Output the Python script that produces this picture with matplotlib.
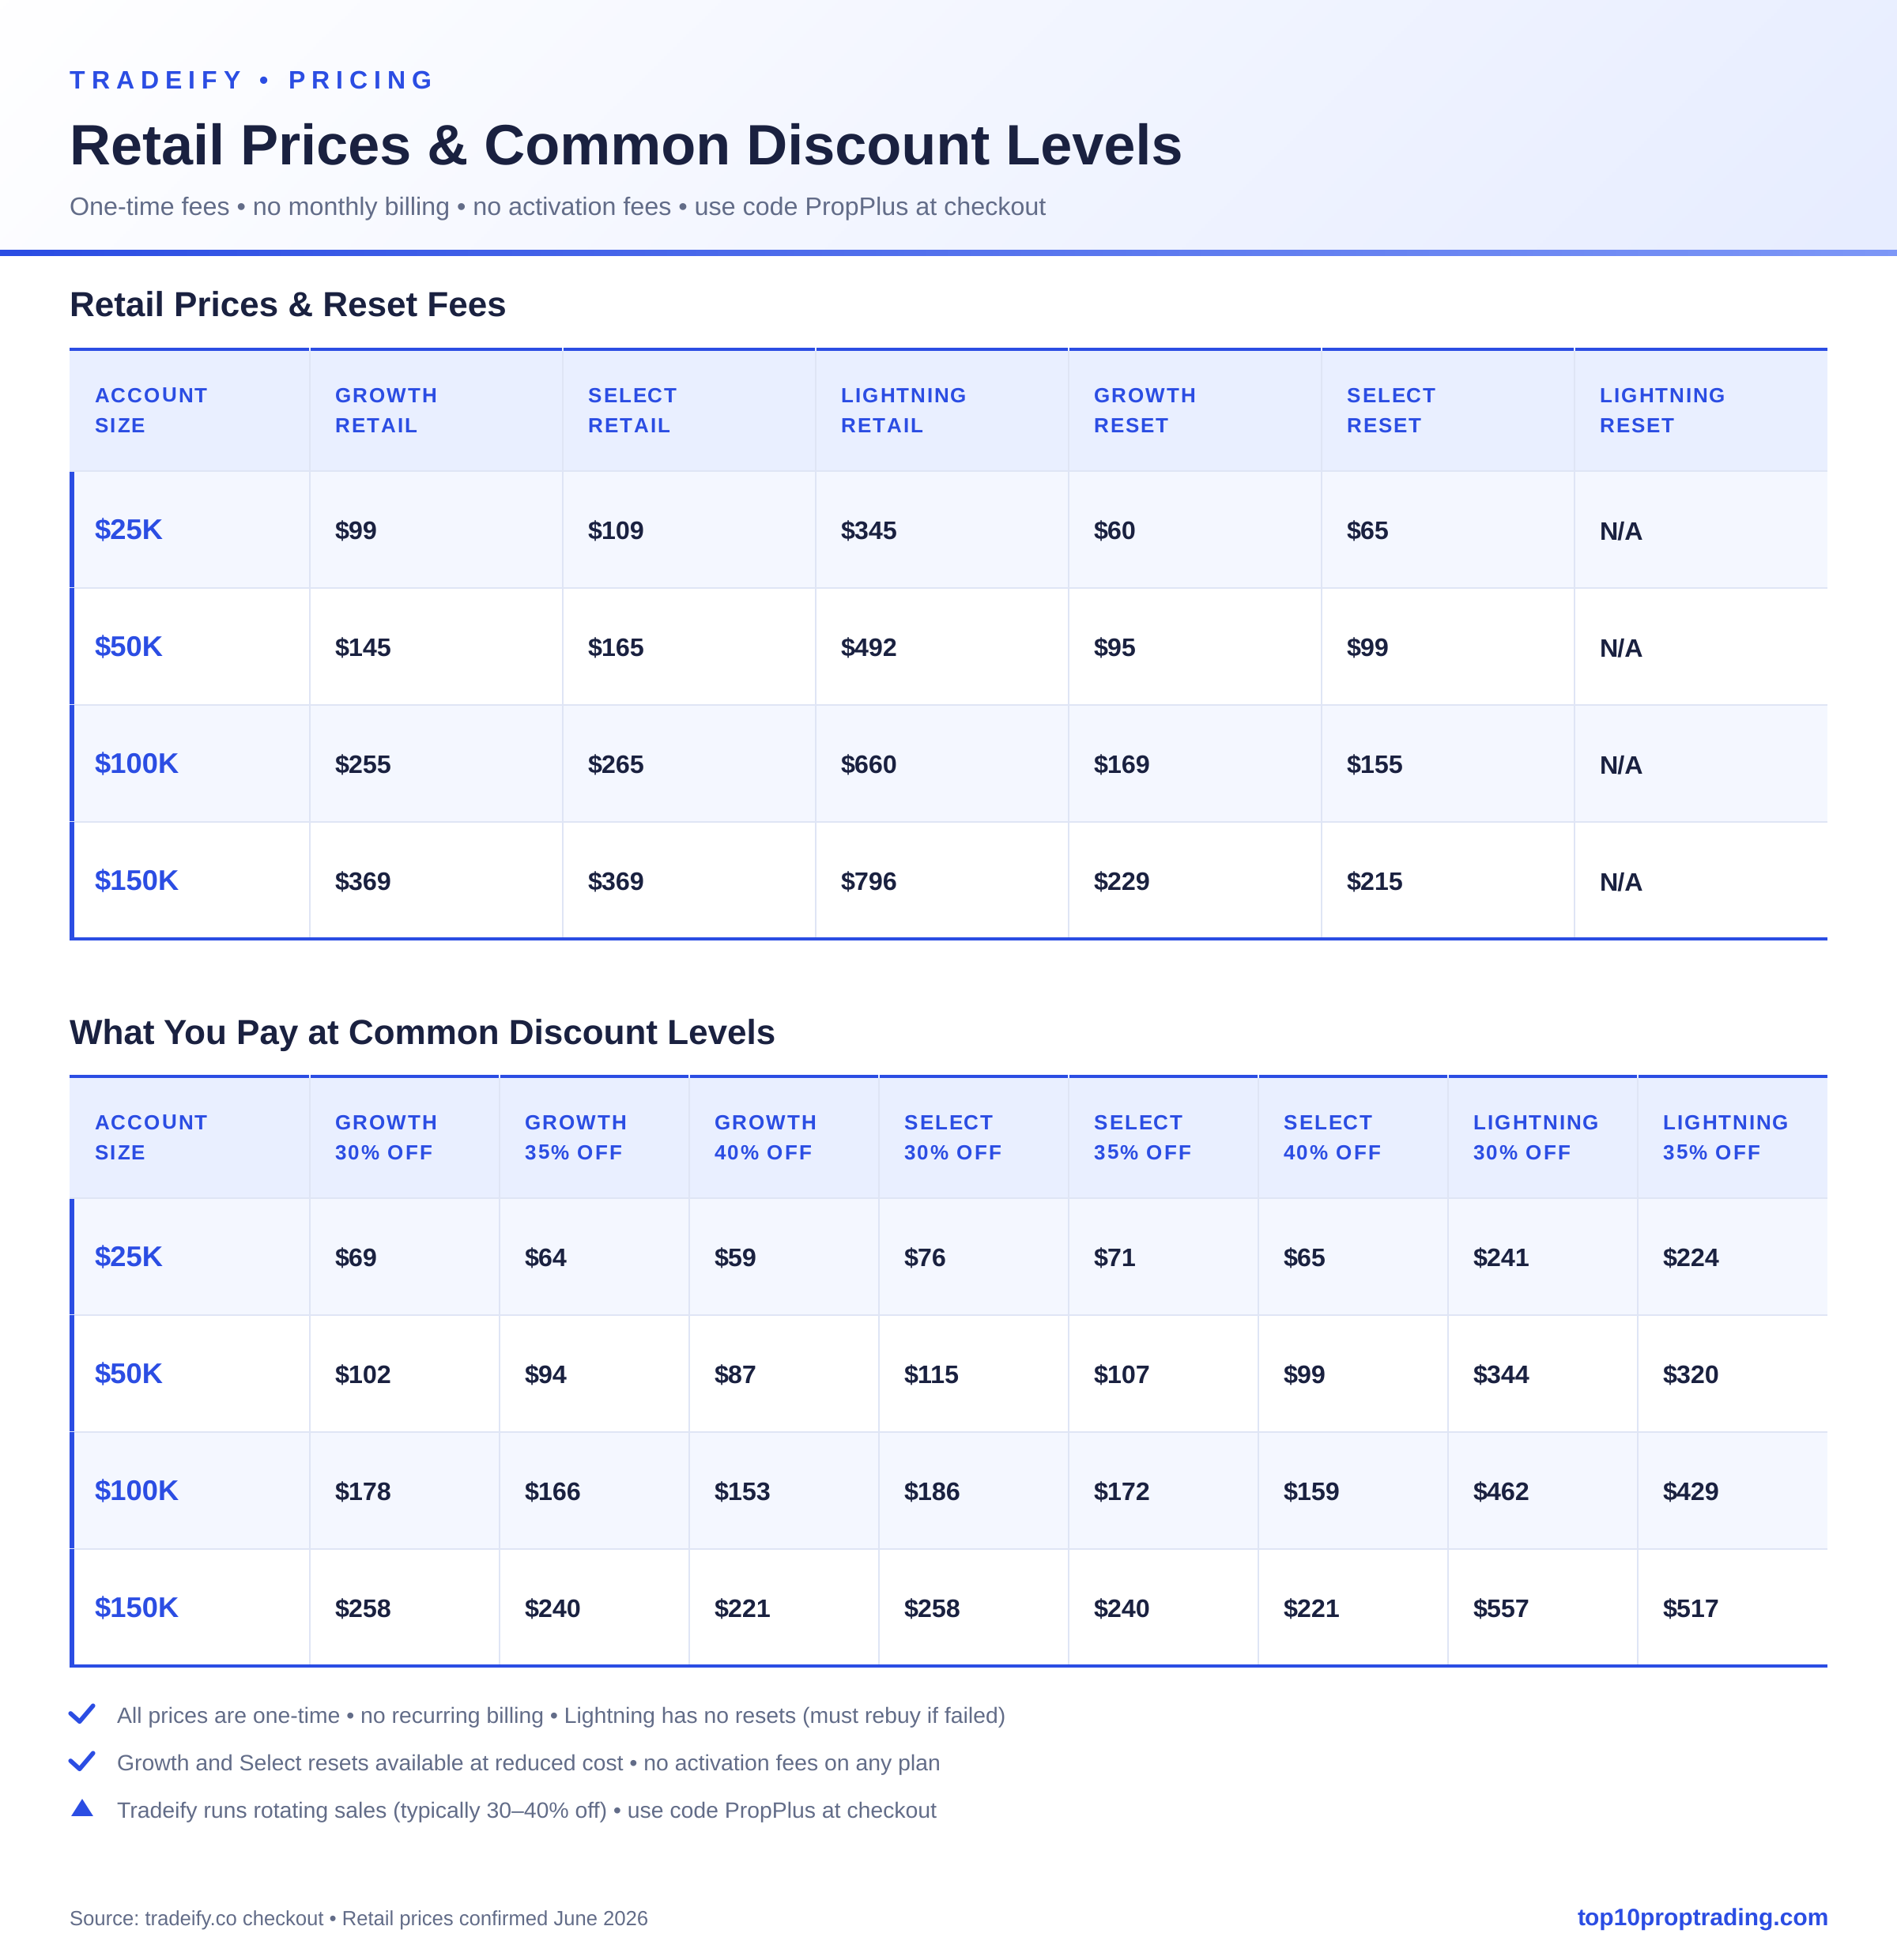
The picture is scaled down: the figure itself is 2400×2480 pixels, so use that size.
import numpy as np
import matplotlib
matplotlib.use("Agg")
import matplotlib.pyplot as plt
from matplotlib import font_manager
from matplotlib.colors import LinearSegmentedColormap
from matplotlib.ft2font import LoadFlags

plt.rcParams['font.family'] = ['Liberation Sans', 'DejaVu Sans']
plt.rcParams['text.hinting'] = 'no_hinting'

# colores
AZUL = "#2b4de3"
OSCURO = "#1a2140"
GRIS = "#626c88"
FONDO_HEADER = "#e9efff"
FONDO_ALT = "#f4f7ff"
BORDE = "#dfe5f5"

# textos
eyebrow = "TRADEIFY • PRICING"
titulo = "Retail Prices & Common Discount Levels"
subtitulo = "One-time fees • no monthly billing • no activation fees • use code PropPlus at checkout"
seccion1 = "Retail Prices & Reset Fees"
seccion2 = "What You Pay at Common Discount Levels"
notas = ["All prices are one-time • no recurring billing • Lightning has no resets (must rebuy if failed)",
         "Growth and Select resets available at reduced cost • no activation fees on any plan",
         "Tradeify runs rotating sales (typically 30–40% off) • use code PropPlus at checkout"]
iconos = ["check", "check", "triangle"]
fuente = "Source: tradeify.co checkout • Retail prices confirmed June 2026"
marca = "top10proptrading.com"

# datos
cuentas = ["$25K", "$50K", "$100K", "$150K"]

cab1 = [("ACCOUNT", "SIZE"), ("GROWTH", "RETAIL"), ("SELECT", "RETAIL"), ("LIGHTNING", "RETAIL"),
        ("GROWTH", "RESET"), ("SELECT", "RESET"), ("LIGHTNING", "RESET")]
growth_retail = ["$99", "$145", "$255", "$369"]
select_retail = ["$109", "$165", "$265", "$369"]
lightning_retail = ["$345", "$492", "$660", "$796"]
growth_reset = ["$60", "$95", "$169", "$229"]
select_reset = ["$65", "$99", "$155", "$215"]
lightning_reset = ["N/A", "N/A", "N/A", "N/A"]

cab2 = [("ACCOUNT", "SIZE"), ("GROWTH", "30% OFF"), ("GROWTH", "35% OFF"), ("GROWTH", "40% OFF"),
        ("SELECT", "30% OFF"), ("SELECT", "35% OFF"), ("SELECT", "40% OFF"),
        ("LIGHTNING", "30% OFF"), ("LIGHTNING", "35% OFF")]
growth_30 = ["$69", "$102", "$178", "$258"]
growth_35 = ["$64", "$94", "$166", "$240"]
growth_40 = ["$59", "$87", "$153", "$221"]
select_30 = ["$76", "$115", "$186", "$258"]
select_35 = ["$71", "$107", "$172", "$240"]
select_40 = ["$65", "$99", "$159", "$221"]
lightning_30 = ["$241", "$344", "$462", "$557"]
lightning_35 = ["$224", "$320", "$429", "$517"]

columnas1 = [growth_retail, select_retail, lightning_retail, growth_reset, select_reset, lightning_reset]
columnas2 = [growth_30, growth_35, growth_40, select_30, select_35, select_40, lightning_30, lightning_35]

fig = plt.figure(figsize=(24, 24.8), dpi=100)
ax = fig.add_axes([0, 0, 1, 1])
ax.set_xlim(0, 2400)
ax.set_ylim(2480, 0)
ax.axis("off")


def px(tam):
    # tamaño en pixeles a puntos
    return tam * 72 / 100


def texto(x, y, s, tam, color, peso="normal", ha="left", espacio=0):
    if espacio == 0:
        ax.text(x, y, s, fontsize=px(tam), color=color, fontweight=peso, ha=ha, va="baseline")
        return
    # letter spacing, letra por letra
    prop = font_manager.FontProperties(family="Liberation Sans", weight=peso)
    font = font_manager.get_font(font_manager.findfont(prop))
    font.set_size(px(tam), 100)
    for c in s:
        ax.text(x, y, c, fontsize=px(tam), color=color, fontweight=peso, ha="left", va="baseline")
        g = font.load_char(ord(c), flags=LoadFlags.NO_HINTING)
        x += g.linearHoriAdvance / 65536 + espacio


def rect(x0, y0, x1, y1, color, z=1):
    ax.fill_between([x0, x1], y0, y1, color=color, lw=0, zorder=z)


# encabezado con degradado
xx, yy = np.meshgrid(np.linspace(0, 2400, 600), np.linspace(0, 316, 80))
cmap_h = LinearSegmentedColormap.from_list("h", ["#ffffff", "#e7edff"])
ax.imshow((xx + yy) / 2716, cmap=cmap_h, vmin=0, vmax=1, extent=[0, 2400, 316, 0], aspect="auto", zorder=0)
cmap_b = LinearSegmentedColormap.from_list("b", [AZUL, "#7d97f7"])
ax.imshow(np.linspace(0, 1, 600).reshape(1, -1), cmap=cmap_b, extent=[0, 2400, 324, 316], aspect="auto", zorder=0)
ax.set_xlim(0, 2400)
ax.set_ylim(2480, 0)

texto(88, 112, eyebrow, 32, AZUL, "bold", espacio=7.95)
texto(88, 207, titulo, 72, OSCURO, "bold")
texto(88, 271, subtitulo, 32.3, GRIS)


def tabla(top, titulo_y, nombre, cabeceras, columnas):
    texto(88, titulo_y, nombre, 44, OSCURO, "bold")
    bordes = [88, 392] + list(np.linspace(392, 2312, len(columnas) + 1)[1:])
    alto_fila = 148
    y_cab = top + 157
    y_fin = y_cab + alto_fila * 4
    rect(88, top, 2312, y_cab, FONDO_HEADER)
    for i in range(4):
        if i % 2 == 0:
            rect(88, y_cab + i * alto_fila, 2312, y_cab + (i + 1) * alto_fila, FONDO_ALT)
        rect(88, y_cab + i * alto_fila - 2, 2312, y_cab + i * alto_fila, BORDE, 2)
    # borde azul arriba, cortado en cada columna
    for j in range(len(bordes) - 1):
        fin = bordes[j + 1] - 1 if j < len(bordes) - 2 else bordes[j + 1]
        rect(bordes[j] + (1 if j > 0 else 0), top, fin, top + 4, AZUL, 3)
    for b in bordes[1:-1]:
        rect(b - 1, top + 4, b + 1, y_fin, BORDE, 2)
    # barra izquierda, con el corte de cada fila
    rect(88, y_cab, 94, y_fin + 1, AZUL, 3)
    for i in range(1, 4):
        rect(88, y_cab + i * alto_fila - 2, 94, y_cab + i * alto_fila - 1, "#dfe5fb", 4)
    rect(88, y_fin - 3, 2312, y_fin + 1, AZUL, 3)

    for j, (l1, l2) in enumerate(cabeceras):
        texto(bordes[j] + 31.5, top + 69, l1, 26, AZUL, "bold", espacio=2)
        texto(bordes[j] + 31.5, top + 107, l2, 26, AZUL, "bold", espacio=1.9)
    for i, cuenta in enumerate(cuentas):
        base = y_cab + i * alto_fila + 86
        texto(120, base - 1, cuenta, 36.4, AZUL, "bold")
        for j, col in enumerate(columnas):
            # el $ baja del renglon y matplotlib sube el texto un pixel
            ajuste = 0 if col[i].startswith("$") else -1
            texto(bordes[j + 1] + 32, base + ajuste, col[i], 32.3, OSCURO, "bold")


tabla(440, 400.5, seccion1, cab1, columnas1)
tabla(1360, 1321.5, seccion2, cab2, columnas2)

# notas
for i, (n, ic) in enumerate(zip(notas, iconos)):
    y = 2180 + i * 60
    texto(148, y, n, 28.45, GRIS)
    if ic == "check":
        ax.plot([89.3, 100.7, 117.7], [y - 12, y - 1.7, y - 21.7], color=AZUL, lw=4.1, solid_capstyle="round",
                solid_joinstyle="round", zorder=3)
    else:
        ax.fill([104, 90, 118], [y - 24, y - 2, y - 2], color=AZUL, lw=0, zorder=3)

texto(88, 2437, fuente, 25.6, GRIS)
texto(2314, 2437, marca, 30, AZUL, "bold", ha="right")

fig.savefig("out.png", dpi=100, facecolor="white")
